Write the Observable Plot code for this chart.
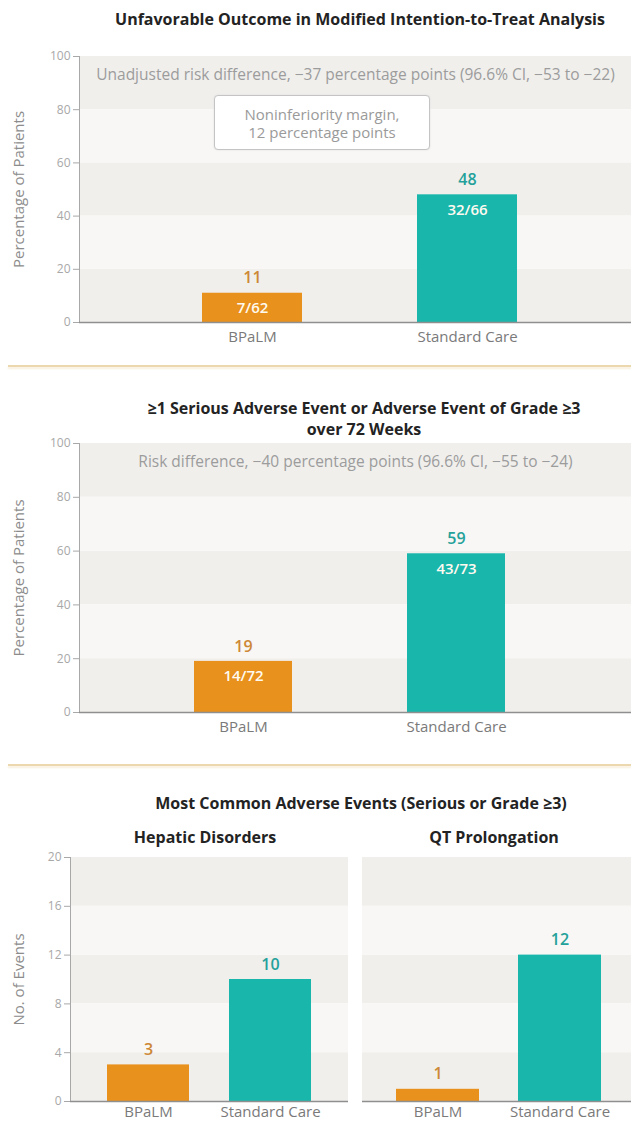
<!DOCTYPE html>
<html><head><meta charset="utf-8">
<script src="https://cdn.jsdelivr.net/npm/d3@7"></script>
<script src="https://cdn.jsdelivr.net/npm/@observablehq/plot@0.6"></script>
<style>
html,body{margin:0;padding:0;overflow:hidden;background:#fff;}
#root{position:relative;width:631px;height:1122px;overflow:hidden;font-family:"Open Sans",sans-serif;}
.panel{position:absolute;}
.title{position:absolute;transform:translateX(-50%);white-space:nowrap;font-weight:700;font-size:16px;color:#232323;text-align:center;line-height:21px;}
.sep{position:absolute;left:8px;width:623px;height:2px;background:#ecd8ae;box-shadow:0 2px 2px #f8eedb;}
.box{position:absolute;box-sizing:border-box;background:#fff;border:1px solid #c4c4c4;border-radius:4px;box-shadow:0 0 2px #ddd;color:#9a9a9a;font-size:15px;line-height:18px;text-align:center;padding-top:9px;}
</style></head><body><div id="root"></div>
<script>
// ---- data ----
const groups = ["BPaLM", "Standard Care"];
const ittPct = [11, 48];
const ittFrac = ["7/62", "32/66"];
const saePct = [19, 59];
const saeFrac = ["14/72", "43/73"];
const hepaticEvents = [3, 10];
const qtEvents = [1, 12];
const pctTicks = [0, 20, 40, 60, 80, 100];
const countTicks = [0, 4, 8, 12, 16, 20];
const ittNote = "Unadjusted risk difference, \u221237 percentage points (96.6% CI, \u221253 to \u221222)";
const saeNote = "Risk difference, \u221240 percentage points (96.6% CI, \u221255 to \u221224)";
const marginNote = ["Noninferiority margin,", "12 percentage points"];
const barColors = ["#e8911c", "#19b6ac"];
const labelColors = ["#cd8836", "#24a19a"];

const root = document.getElementById("root");

function makePanel(o) {
  const data = groups.map((g, i) => ({group: g, value: o.values[i], frac: o.fracs ? o.fracs[i] : "", color: barColors[i], labelColor: labelColors[i]}));
  const bands = o.ticks.slice(0, -1).map((t, i) => ({y1: t, y2: o.ticks[i + 1], shade: i % 2 === 0}));
  const top = o.ticks[o.ticks.length - 1];
  const marks = [
    Plot.rect(bands.filter(b => b.shade), {y1: "y1", y2: "y2", fill: "#f0efec", insetLeft: o.inset}),
    Plot.rect(bands.filter(b => !b.shade), {y1: "y1", y2: "y2", fill: "#f8f7f5", insetLeft: o.inset}),
    Plot.barY(data, {x: "group", y: "value", fill: "color"}),
    Plot.ruleY([0], {stroke: "#8f8f8f", strokeWidth: 1.5}),
    Plot.text(data, {x: "group", y: "value", text: d => String(d.value), dy: -15, fill: "labelColor", fontSize: 16, fontWeight: 600}),
    Plot.text(data, {x: "group", text: "group", frameAnchor: "bottom", dy: o.labelDy, fill: "#7a7a7a", fontSize: 15})
  ];
  if (o.fracs) marks.push(Plot.text(data, {x: "group", y: "value", text: "frac", dy: 15, fill: "#fffaf0", fontSize: 15, fontWeight: 600}));
  if (o.note) marks.push(Plot.text([o.note], {y: o.noteY, text: d => d, fill: "#9c9c9c", fontSize: 15.5}));
  if (o.yLabel) marks.push(Plot.text([o.yLabel], {frameAnchor: "left", textAnchor: "middle", rotate: -90, dx: o.yLabelDx, text: d => d, fill: "#8c8c8c", fontSize: 15}));
  const svg = Plot.plot({
    width: o.width, height: o.height,
    marginLeft: o.ml, marginRight: 0, marginTop: o.mt, marginBottom: o.mb,
    style: {fontFamily: '"Open Sans", sans-serif', fontSize: "12px", color: "#a8a8a8", background: "transparent", overflow: "visible"},
    x: {domain: groups, paddingInner: o.pi, paddingOuter: o.po, align: o.align, axis: null},
    y: o.showY
      ? {domain: [0, top], ticks: o.ticks, tickSize: 6, tickPadding: 3, line: true, label: null}
      : {domain: [0, top], axis: null},
    color: {type: "identity"},
    marks
  });
  const wrap = document.createElement("div");
  wrap.className = "panel";
  wrap.style.left = o.left + "px";
  wrap.style.top = o.top + "px";
  wrap.appendChild(svg);
  root.appendChild(wrap);
}

function addTitle(text, cx, top) {
  const d = document.createElement("div");
  d.className = "title";
  d.style.left = cx + "px";
  d.style.top = top + "px";
  d.innerHTML = text;
  root.appendChild(d);
}
function addSep(top) {
  const d = document.createElement("div");
  d.className = "sep";
  d.style.top = top + "px";
  root.appendChild(d);
}

// Panel 1
makePanel({values: ittPct, fracs: ittFrac, ticks: pctTicks, width: 631, height: 362, left: 0, top: 0,
  ml: 79, mt: 56, mb: 40, pi: 0.534, po: 0.548, align: 0.521, inset: 1, labelDy: 19,
  showY: true, yLabel: "Percentage of Patients", yLabelDx: -60, note: ittNote, noteY: 93});
addTitle("Unfavorable Outcome in Modified Intention-to-Treat Analysis", 360, 9);
const box = document.createElement("div");
box.className = "box";
box.style.left = "214px"; box.style.top = "95px"; box.style.width = "216px"; box.style.height = "55px";
box.innerHTML = marginNote.join("<br>");
root.appendChild(box);

addSep(365);

// Panel 2
makePanel({values: saePct, fracs: saeFrac, ticks: pctTicks, width: 631, height: 360, left: 0, top: 380,
  ml: 79, mt: 63, mb: 28, pi: 0.539, po: 0.562, align: 0.479, inset: 1, labelDy: 19,
  showY: true, yLabel: "Percentage of Patients", yLabelDx: -60, note: saeNote, noteY: 93});
addTitle("\u22651 Serious Adverse Event or Adverse Event of Grade \u22653<br>over 72 Weeks", 364, 398);

addSep(764);

// Panel 3
addTitle("Most Common Adverse Events (Serious or Grade \u22653)", 361, 793);
makePanel({values: hepaticEvents, ticks: countTicks, width: 348, height: 352, left: 0, top: 770,
  ml: 70, mt: 87, mb: 21, pi: 0.33, po: 0.30, align: 0.5, inset: 1, labelDy: 15,
  showY: true, yLabel: "No. of Events", yLabelDx: -51});
makePanel({values: qtEvents, ticks: countTicks, width: 269, height: 352, left: 362, top: 770,
  ml: 0, mt: 87, mb: 21, pi: 0.322, po: 0.259, align: 0.535, inset: 0, labelDy: 15,
  showY: false});
addTitle("Hepatic Disorders", 205, 827);
addTitle("QT Prolongation", 494, 827);
</script></body></html>
